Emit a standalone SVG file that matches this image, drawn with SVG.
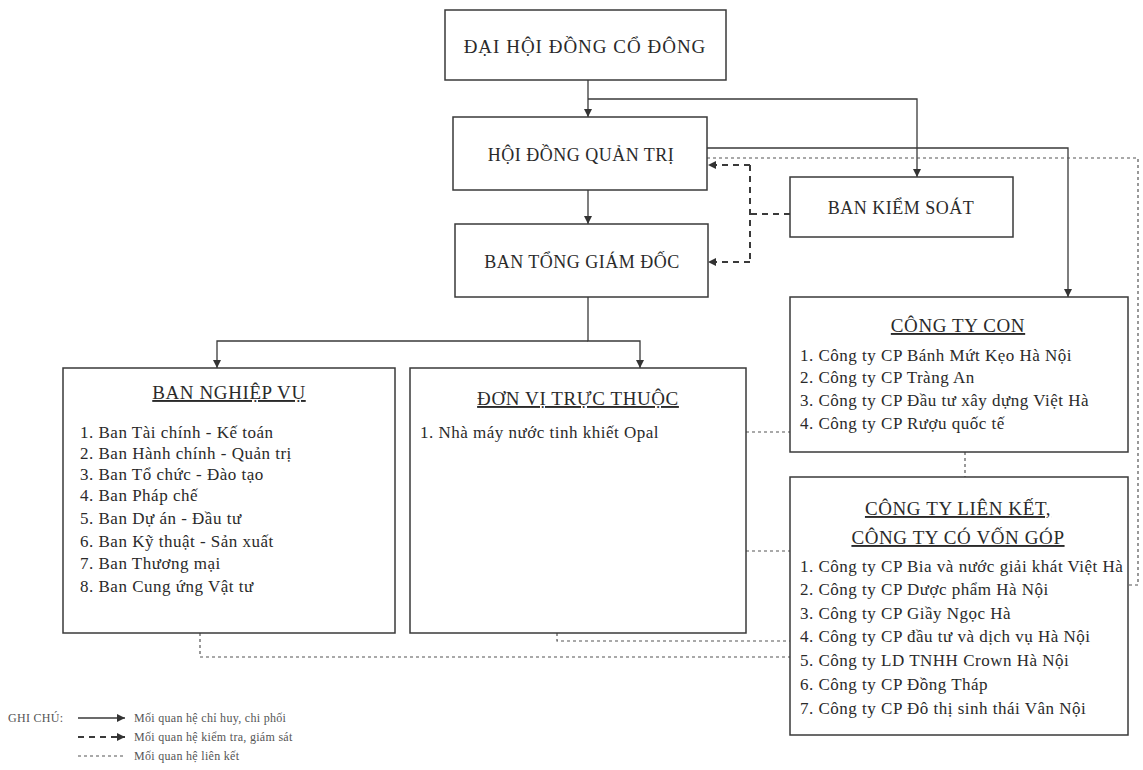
<svg xmlns="http://www.w3.org/2000/svg" width="1143" height="770" viewBox="0 0 1143 770">
<style>
.box{fill:#fff;stroke:#3a3a3a;stroke-width:1.5}
.t{font-family:"Liberation Serif","DejaVu Serif",serif;fill:#2a2a2a}
.h{font-size:18px;letter-spacing:0.5px;text-anchor:middle}
.ti{font-size:19px;letter-spacing:0.6px;text-anchor:middle;text-decoration:underline}
.it{font-size:17px;letter-spacing:0.5px}
.solid{fill:none;stroke:#3a3a3a;stroke-width:1.3}
.dash{fill:none;stroke:#3a3a3a;stroke-width:2;stroke-dasharray:6 5}
.dot{fill:none;stroke:#555;stroke-width:1.2;stroke-dasharray:3 3}
.lg{font-family:"Liberation Serif","DejaVu Serif",serif;font-size:12px;letter-spacing:0.3px;fill:#555}
</style>
<defs>
<marker id="arr" markerWidth="9" markerHeight="9" refX="8" refY="4.5" orient="auto" markerUnits="userSpaceOnUse">
<path d="M0,0.5 L8,4.5 L0,8.5 Z" fill="#333"/>
</marker>
</defs>
<rect width="1143" height="770" fill="#fff"/>
<g id="connectors">
<path class="solid" d="M588,80 V117" marker-end="url(#arr)"/>
<path class="solid" d="M588,99 H917 V177" marker-end="url(#arr)"/>
<path class="solid" d="M588,190 V224" marker-end="url(#arr)"/>
<path class="solid" d="M707,148 H1068 V297" marker-end="url(#arr)"/>
<path class="solid" d="M588,297 V341 H640 V368" marker-end="url(#arr)"/>
<path class="solid" d="M588,341 H217 V368" marker-end="url(#arr)"/>
<path class="dash" d="M790,214 H750"/>
<path class="dash" d="M750,165 V262"/>
<path class="dash" d="M750,165 H708" marker-end="url(#arr)"/>
<path class="dash" d="M750,262 H708" marker-end="url(#arr)"/>
<path class="dot" d="M707,158 H1138 V585 H1128"/>
<path class="dot" d="M746,432 H790"/>
<path class="dot" d="M965,452 V477"/>
<path class="dot" d="M746,551 H790"/>
<path class="dot" d="M557,633 V641 H790"/>
<path class="dot" d="M200,633 V657 H790"/>
</g>
<g id="dhdcd">
<rect class="box" x="445" y="10" width="281" height="70"/>
<text class="t h" x="585" y="53" style="font-size:19px;letter-spacing:1px">ĐẠI HỘI ĐỒNG CỔ ĐÔNG</text>
</g>
<g id="hdqt">
<rect class="box" x="453" y="117" width="254" height="73"/>
<text class="t h" x="581" y="161">HỘI ĐỒNG QUẢN TRỊ</text>
</g>
<g id="bks">
<rect class="box" x="790" y="177" width="223" height="60"/>
<text class="t h" x="901" y="214">BAN KIỂM SOÁT</text>
</g>
<g id="btgd">
<rect class="box" x="455" y="224" width="253" height="73"/>
<text class="t h" x="582" y="268">BAN TỔNG GIÁM ĐỐC</text>
</g>
<g id="bannghiepvu">
<rect class="box" x="63" y="368" width="332" height="265"/>
<text class="t ti" x="229" y="399">BAN NGHIỆP VỤ</text>
<text class="t it" x="80" y="438">1. Ban Tài chính - Kế toán</text>
<text class="t it" x="80" y="459">2. Ban Hành chính - Quản trị</text>
<text class="t it" x="80" y="480">3. Ban Tổ chức - Đào tạo</text>
<text class="t it" x="80" y="501">4. Ban Pháp chế</text>
<text class="t it" x="80" y="524">5. Ban Dự án - Đầu tư</text>
<text class="t it" x="80" y="547">6. Ban Kỹ thuật - Sản xuất</text>
<text class="t it" x="80" y="569">7. Ban Thương mại</text>
<text class="t it" x="80" y="592">8. Ban Cung ứng Vật tư</text>
</g>
<g id="donvi">
<rect class="box" x="410" y="368" width="336" height="265"/>
<text class="t ti" x="578" y="405">ĐƠN VỊ TRỰC THUỘC</text>
<text class="t it" x="420" y="438">1. Nhà máy nước tinh khiết Opal</text>
</g>
<g id="congtycon">
<rect class="box" x="790" y="297" width="338" height="155"/>
<text class="t ti" x="958" y="332">CÔNG TY CON</text>
<text class="t it" x="800" y="361">1. Công ty CP Bánh Mứt Kẹo Hà Nội</text>
<text class="t it" x="800" y="383">2. Công ty CP Tràng An</text>
<text class="t it" x="800" y="406">3. Công ty CP Đầu tư xây dựng Việt Hà</text>
<text class="t it" x="800" y="429">4. Công ty CP Rượu quốc tế</text>
</g>
<g id="lienket">
<rect class="box" x="790" y="477" width="338" height="258"/>
<text class="t ti" x="958" y="515">CÔNG TY LIÊN KẾT,</text>
<text class="t ti" x="958" y="544">CÔNG TY CÓ VỐN GÓP</text>
<text class="t it" x="800" y="572">1. Công ty CP Bia và nước giải khát Việt Hà</text>
<text class="t it" x="800" y="595">2. Công ty CP Dược phẩm Hà Nội</text>
<text class="t it" x="800" y="619">3. Công ty CP Giầy Ngọc Hà</text>
<text class="t it" x="800" y="642">4. Công ty CP đầu tư và dịch vụ Hà Nội</text>
<text class="t it" x="800" y="666">5. Công ty LD TNHH Crown Hà Nội</text>
<text class="t it" x="800" y="690">6. Công ty CP Đồng Tháp</text>
<text class="t it" x="800" y="714">7. Công ty CP Đô thị sinh thái Vân Nội</text>
</g>
<g id="legend">
<text class="lg" x="8" y="722">GHI CHÚ:</text>
<path class="solid" d="M78,718 H125" marker-end="url(#arr)"/>
<text class="lg" x="134" y="722">Mối quan hệ chỉ huy, chi phối</text>
<path class="dash" d="M78,737 H125" marker-end="url(#arr)"/>
<text class="lg" x="134" y="741">Mối quan hệ kiểm tra, giám sát</text>
<path class="dot" d="M78,756 H125"/>
<text class="lg" x="134" y="760">Mối quan hệ liên kết</text>
</g>
</svg>
